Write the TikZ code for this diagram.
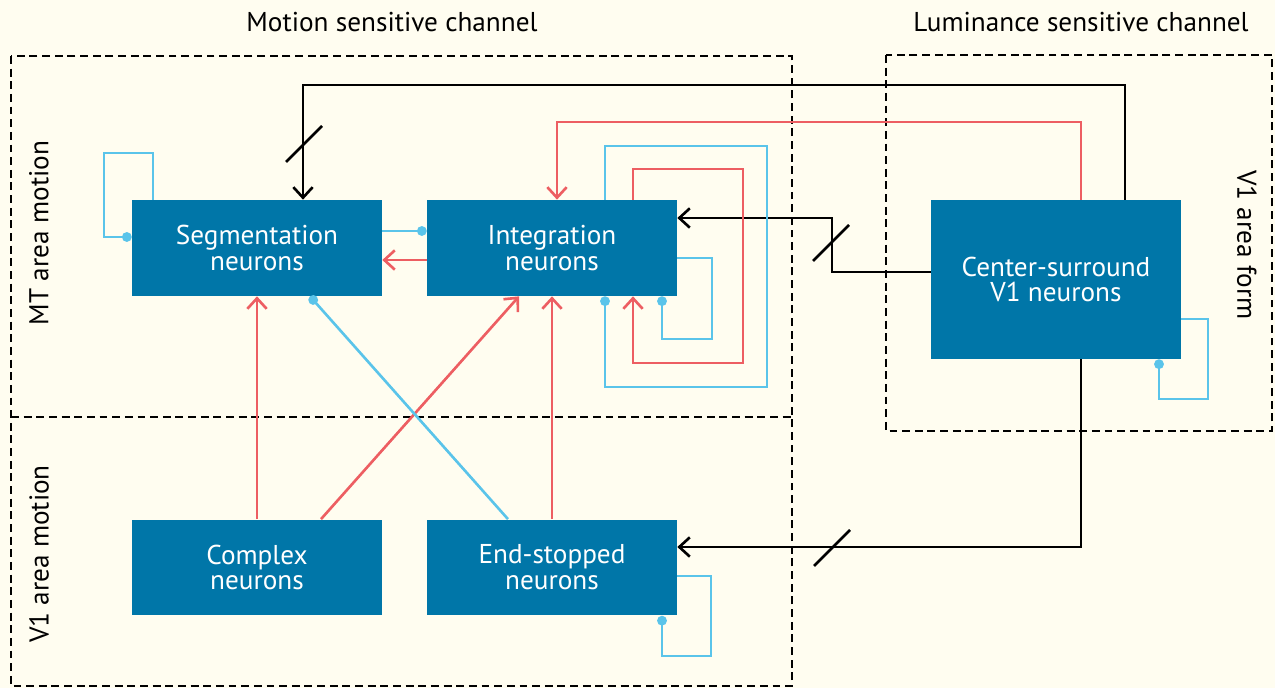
\documentclass[tikz,border=0pt]{standalone}
\usepackage{fontspec}
\setmainfont{PT Sans}
\usetikzlibrary{arrows.meta}
\definecolor{boxblue}{RGB}{0,118,168}
\definecolor{inhib}{RGB}{90,196,234}
\definecolor{excit}{RGB}{237,94,98}
\definecolor{paper}{RGB}{255,253,240}

\begin{document}
\begin{tikzpicture}[
    x=0.02cm, y=-0.02cm,
    cell/.style={rectangle, fill=boxblue, text=white, minimum width=5cm, minimum height=1.92cm, inner sep=0pt, align=center, font=\fontsize{15.5}{14.7}\selectfont},
    areatext/.style={inner sep=0pt, font=\fontsize{15.5}{18}\selectfont},
    region/.style={draw, line width=1.5pt, dash pattern=on 4.5pt off 2.7pt},
    feed/.style={draw=black, line width=1.5pt, -{Straight Barb[length=6pt,width=11pt]}},
    excite/.style={draw=excit, line width=1.5pt, -{Straight Barb[length=6pt,width=11pt]}},
    inhibit/.style={draw=inhib, line width=1.5pt, -{Circle[length=5.5pt]}},
    cut/.style={draw=black, line width=1.5pt}
]
\fill[paper] (0,0) rectangle (1275,688);
\useasboundingbox (0,0) rectangle (1275,688);

% Zones
\draw[region] (11,56) rectangle (792,686);
\draw[region] (11,417) -- (792,417);
\draw[region] (886,55) rectangle (1272,431);

\node[areatext] (mtitle) at (392,22) {Motion sensitive channel};
\node[areatext] (ltitle) at (1081,22) {Luminance sensitive channel};
\node[areatext, rotate=90] (mtlab) at (39,233) {MT area motion};
\node[areatext, rotate=90] (vmlab) at (39,554) {V1 area motion};
\node[areatext, rotate=-90] (vflab) at (1247,245) {V1 area form};

% Neurones
\node[cell] (seg) at (257,248) {Segmentation\\neurons};
\node[cell] (int) at (552,248) {Integration\\neurons};
\node[cell] (cx) at (257,567.5) {Complex\\neurons};
\node[cell] (es) at (552,567.5) {End-stopped\\neurons};
\node[cell, minimum height=3.18cm] (cs) at (1056,279.5) {Center-surround\\V1 neurons};

% Voie forme -> mouvement
\draw[feed] (cs.north -| 1125,0) |- (303,85) -- (seg.north -| 303,0);
\draw[excite] (cs.north -| 1081,0) |- (557,122) -- (int.north -| 557,0);
\draw[feed] (cs.west |- 0,272) -| (832,218) -- (int.east |- 0,218);
\draw[feed] (cs.south -| 1081,0) |- (es.east |- 0,547);
\foreach \x/\y in {304/144, 831/243, 832/548} {
    \draw[cut] (\x-18,\y+18) -- (\x+18,\y-18);
}

% Couche MT
\draw[inhibit] (seg.north -| 153,0) -- (153,153) -| (104,237) -- (seg.west |- 0,237);
\draw[inhibit] (seg.east |- 0,231) -- (int.west |- 0,231);
\draw[excite] (int.west |- 0,260) -- (seg.east |- 0,260);
\draw[inhibit] (int.north -| 605,0) |- (767,146) |- (605,387) -- (int.south -| 605,0);
\draw[excite] (int.north -| 633,0) |- (743,169) |- (633,363) -- (int.south -| 633,0);
\draw[inhibit] (int.east |- 0,258) -| (712,339) -| (int.south -| 662,0);

% Boucles
\draw[inhibit] (cs.east |- 0,319) -| (1208,399) -| (cs.south -| 1159,0);
\draw[inhibit] (es.east |- 0,576) -| (711,656) -| (es.south -| 662,0);

% V1 -> MT
\draw[excite] (cx.north) -- (seg.south);
\draw[excite] (cx.north -| 321,0) -- (int.south -| 519,0);
\draw[excite] (es.north) -- (int.south);
\draw[inhibit] (es.north -| 508,0) -- (seg.south -| 310,0);

\end{tikzpicture}
\end{document}
